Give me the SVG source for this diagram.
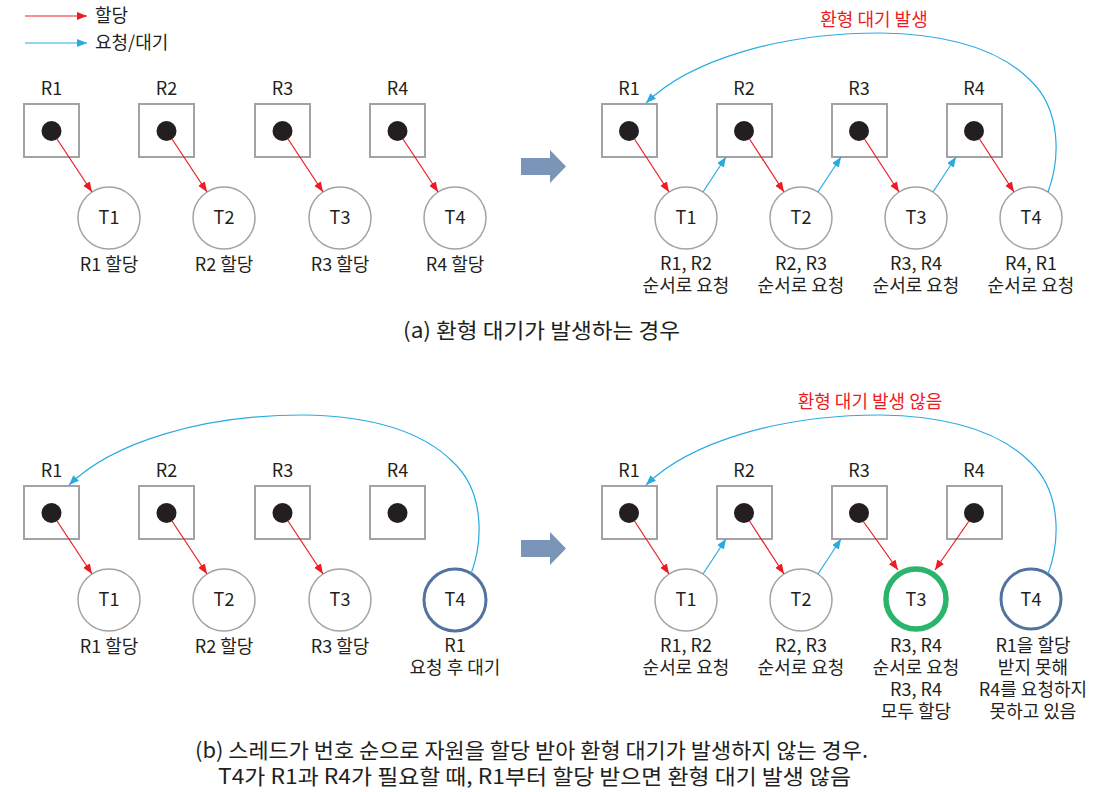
<svg xmlns="http://www.w3.org/2000/svg" width="1093" height="792" viewBox="0 0 1093 792">
<defs>
<marker id="mr" markerUnits="userSpaceOnUse" markerWidth="11" markerHeight="9" refX="10" refY="4" orient="auto"><path d="M0,0 L10,4 L0,8 z" fill="#ec1c24"/></marker>
<marker id="mb" markerUnits="userSpaceOnUse" markerWidth="11" markerHeight="9" refX="10" refY="4" orient="auto"><path d="M0,0 L10,4 L0,8 z" fill="#29abe2"/></marker>
<style>
text{font-family:"Noto Sans CJK KR","Noto Sans",sans-serif;fill:#231f20;font-size:18px}
.c{text-anchor:middle}
.box{fill:#fff;stroke:#a3a3a3;stroke-width:2}
.dot{fill:#231f20}
.th{fill:#fff;stroke:#a3a3a3;stroke-width:1.5}
.tb{fill:#fff;stroke:#51739c;stroke-width:3}
.tg{fill:#fff;stroke:#2bb46b;stroke-width:5.5}
.red{stroke:#ec1c24;stroke-width:1.2;fill:none;marker-end:url(#mr)}
.blue{stroke:#29abe2;stroke-width:1.2;fill:none;marker-end:url(#mb)}
.ttl{fill:#ec1c24}
.big{fill:#7b95b8}
.cap{font-size:21px}
</style>
</defs>

<g id="legend">
<line class="red" x1="25" y1="16" x2="87" y2="16"/>
<text x="95" y="22">할당</text>
<line class="blue" x1="25" y1="43" x2="87" y2="43"/>
<text x="95" y="49">요청/대기</text>
</g>

<!-- (a) left -->
<g id="a-left">
<g id="aL-R1"><text class="c" x="51.5" y="95">R1</text><rect class="box" x="24" y="104" width="55" height="53"/><circle class="dot" cx="51.5" cy="131" r="10"/></g>
<g id="aL-R2"><text class="c" x="166.5" y="95">R2</text><rect class="box" x="139" y="104" width="55" height="53"/><circle class="dot" cx="166.5" cy="131" r="10"/></g>
<g id="aL-R3"><text class="c" x="282.5" y="95">R3</text><rect class="box" x="255" y="104" width="55" height="53"/><circle class="dot" cx="282.5" cy="131" r="10"/></g>
<g id="aL-R4"><text class="c" x="397.5" y="95">R4</text><rect class="box" x="370" y="104" width="55" height="53"/><circle class="dot" cx="397.5" cy="131" r="10"/></g>
<g id="aL-T1"><circle class="th" cx="109" cy="218" r="31"/><text class="c" x="109" y="224">T1</text><text class="c" x="109" y="271">R1 할당</text></g>
<g id="aL-T2"><circle class="th" cx="224" cy="218" r="31"/><text class="c" x="224" y="224">T2</text><text class="c" x="224" y="271">R2 할당</text></g>
<g id="aL-T3"><circle class="th" cx="340" cy="218" r="31"/><text class="c" x="340" y="224">T3</text><text class="c" x="340" y="271">R3 할당</text></g>
<g id="aL-T4"><circle class="th" cx="455" cy="218" r="31"/><text class="c" x="455" y="224">T4</text><text class="c" x="455" y="271">R4 할당</text></g>
</g>

<!-- (a) right -->
<g id="a-right">
<text class="c ttl" x="874" y="26">환형 대기 발생</text>
<g id="aR-R1"><text class="c" x="629" y="95">R1</text><rect class="box" x="602" y="104" width="55" height="53"/><circle class="dot" cx="629" cy="131" r="10"/></g>
<g id="aR-R2"><text class="c" x="744" y="95">R2</text><rect class="box" x="717" y="104" width="55" height="53"/><circle class="dot" cx="744" cy="131" r="10"/></g>
<g id="aR-R3"><text class="c" x="859" y="95">R3</text><rect class="box" x="832" y="104" width="55" height="53"/><circle class="dot" cx="859" cy="131" r="10"/></g>
<g id="aR-R4"><text class="c" x="974" y="95">R4</text><rect class="box" x="947" y="104" width="55" height="53"/><circle class="dot" cx="974" cy="131" r="10"/></g>
<g id="aR-T1"><circle class="th" cx="686" cy="218" r="31"/><text class="c" x="686" y="224">T1</text><text class="c" x="686" y="270">R1, R2</text><text class="c" x="686" y="292">순서로 요청</text></g>
<g id="aR-T2"><circle class="th" cx="801" cy="218" r="31"/><text class="c" x="801" y="224">T2</text><text class="c" x="801" y="270">R2, R3</text><text class="c" x="801" y="292">순서로 요청</text></g>
<g id="aR-T3"><circle class="th" cx="916" cy="218" r="31"/><text class="c" x="916" y="224">T3</text><text class="c" x="916" y="270">R3, R4</text><text class="c" x="916" y="292">순서로 요청</text></g>
<g id="aR-T4"><circle class="th" cx="1031" cy="218" r="31"/><text class="c" x="1031" y="224">T4</text><text class="c" x="1031" y="270">R4, R1</text><text class="c" x="1031" y="292">순서로 요청</text></g>
</g>

<!-- (b) left -->
<g id="b-left">
<g id="bL-R1"><text class="c" x="51.5" y="477">R1</text><rect class="box" x="24" y="486" width="55" height="53"/><circle class="dot" cx="51.5" cy="513" r="10"/></g>
<g id="bL-R2"><text class="c" x="166.5" y="477">R2</text><rect class="box" x="139" y="486" width="55" height="53"/><circle class="dot" cx="166.5" cy="513" r="10"/></g>
<g id="bL-R3"><text class="c" x="282.5" y="477">R3</text><rect class="box" x="255" y="486" width="55" height="53"/><circle class="dot" cx="282.5" cy="513" r="10"/></g>
<g id="bL-R4"><text class="c" x="397.5" y="477">R4</text><rect class="box" x="370" y="486" width="55" height="53"/><circle class="dot" cx="397.5" cy="513" r="10"/></g>
<g id="bL-T1"><circle class="th" cx="109" cy="600" r="31"/><text class="c" x="109" y="606">T1</text><text class="c" x="109" y="653">R1 할당</text></g>
<g id="bL-T2"><circle class="th" cx="224" cy="600" r="31"/><text class="c" x="224" y="606">T2</text><text class="c" x="224" y="653">R2 할당</text></g>
<g id="bL-T3"><circle class="th" cx="340" cy="600" r="31"/><text class="c" x="340" y="606">T3</text><text class="c" x="340" y="653">R3 할당</text></g>
<g id="bL-T4"><circle class="tb" cx="455" cy="600" r="31"/><text class="c" x="455" y="606">T4</text><text class="c" x="455" y="652">R1</text><text class="c" x="455" y="674">요청 후 대기</text></g>
</g>

<!-- (b) right -->
<g id="b-right">
<text class="c ttl" x="870" y="408">환형 대기 발생 않음</text>
<g id="bR-R1"><text class="c" x="629" y="477">R1</text><rect class="box" x="602" y="486" width="55" height="53"/><circle class="dot" cx="629" cy="513" r="10"/></g>
<g id="bR-R2"><text class="c" x="744" y="477">R2</text><rect class="box" x="717" y="486" width="55" height="53"/><circle class="dot" cx="744" cy="513" r="10"/></g>
<g id="bR-R3"><text class="c" x="859" y="477">R3</text><rect class="box" x="832" y="486" width="55" height="53"/><circle class="dot" cx="859" cy="513" r="10"/></g>
<g id="bR-R4"><text class="c" x="974" y="477">R4</text><rect class="box" x="947" y="486" width="55" height="53"/><circle class="dot" cx="974" cy="513" r="10"/></g>
<g id="bR-T1"><circle class="th" cx="686" cy="600" r="31"/><text class="c" x="686" y="606">T1</text><text class="c" x="686" y="652">R1, R2</text><text class="c" x="686" y="674">순서로 요청</text></g>
<g id="bR-T2"><circle class="th" cx="801" cy="600" r="31"/><text class="c" x="801" y="606">T2</text><text class="c" x="801" y="652">R2, R3</text><text class="c" x="801" y="674">순서로 요청</text></g>
<g id="bR-T3"><circle class="tg" cx="916" cy="599" r="30"/><text class="c" x="916" y="606">T3</text><text class="c" x="916" y="652">R3, R4</text><text class="c" x="916" y="674">순서로 요청</text><text class="c" x="916" y="696">R3, R4</text><text class="c" x="916" y="718">모두 할당</text></g>
<g id="bR-T4"><circle class="tb" cx="1031" cy="599" r="30"/><text class="c" x="1031" y="606">T4</text><text class="c" x="1033" y="652">R1을 할당</text><text class="c" x="1033" y="674">받지 못해</text><text class="c" x="1033" y="696">R4를 요청하지</text><text class="c" x="1033" y="718">못하고 있음</text></g>
</g>

<g id="arrows-big">
<polygon class="big" points="521,158 550,158 550,150 566,166.5 550,183 550,175 521,175"/>
<polygon class="big" points="521,540 550,540 550,532 566,548.5 550,565 550,557 521,557"/>
</g>

<g id="connectors">
<line class="red" x1="57" y1="139" x2="92" y2="192"/>
<line class="red" x1="172" y1="139" x2="207" y2="192"/>
<line class="red" x1="288" y1="139" x2="323" y2="192"/>
<line class="red" x1="403" y1="139" x2="438" y2="192"/>
<line class="red" x1="634.5" y1="139" x2="669" y2="192"/>
<line class="red" x1="749.5" y1="139" x2="784" y2="192"/>
<line class="red" x1="864.5" y1="139" x2="899" y2="192"/>
<line class="red" x1="979.5" y1="139" x2="1014" y2="192"/>
<line class="blue" x1="703" y1="192" x2="726" y2="157"/>
<line class="blue" x1="818" y1="192" x2="841" y2="157"/>
<line class="blue" x1="933" y1="192" x2="956" y2="157"/>
<path class="blue" d="M1048,192 C1060,160 1062,110 1030,80 C1000,50 950,34 880,33 C780,33 690,60 646,103"/>
<line class="red" x1="57" y1="521" x2="92" y2="574"/>
<line class="red" x1="172" y1="521" x2="207" y2="574"/>
<line class="red" x1="288" y1="521" x2="323" y2="574"/>
<path class="blue" d="M471,574 C483,542 485,492 453,462 C423,432 373,416 303,415 C203,415 113,442 69,485"/>
<line class="red" x1="634.5" y1="521" x2="669" y2="574"/>
<line class="red" x1="749.5" y1="521" x2="784" y2="574"/>
<line class="red" x1="863" y1="521" x2="898" y2="570"/>
<line class="red" x1="969" y1="521" x2="935" y2="570"/>
<line class="blue" x1="703" y1="574" x2="726" y2="539"/>
<line class="blue" x1="818" y1="574" x2="841" y2="539"/>
<path class="blue" d="M1048,574 C1060,542 1062,492 1030,462 C1000,432 950,416 880,415 C780,415 690,442 646,485"/>
</g>

<g id="captions">
<text class="cap" x="403" y="338" textLength="277" lengthAdjust="spacingAndGlyphs">(a) 환형 대기가 발생하는 경우</text>
<text class="cap" x="195" y="758" textLength="673" lengthAdjust="spacingAndGlyphs">(b) 스레드가 번호 순으로 자원을 할당 받아 환형 대기가 발생하지 않는 경우.</text>
<text class="cap" x="218" y="784" textLength="633" lengthAdjust="spacingAndGlyphs">T4가 R1과 R4가 필요할 때, R1부터 할당 받으면 환형 대기 발생 않음</text>
</g>
</svg>
